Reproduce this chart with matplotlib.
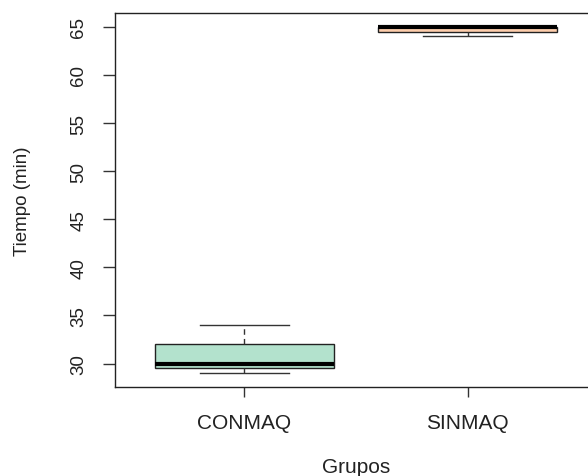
import matplotlib.pyplot as plt

# Five-number summaries per group (minutes)
grupos = ["CONMAQ", "SINMAQ"]
minimo = [29, 64]
q1 = [29.5, 64.5]
mediana = [30, 65]
q3 = [32, 65]
maximo = [34, 65]
colores = ["#b3e2cd", "#fdcdac"]
yticks = [30, 35, 40, 45, 50, 55, 60, 65]

plt.rcParams['font.family'] = ['Liberation Sans', 'DejaVu Sans']

fig = plt.figure(figsize=(5.88, 4.77), dpi=100)
ax = fig.add_axes([115/588, 89/477, 482/588, 374/477])

stats = []
for i, g in enumerate(grupos):
    stats.append({"label": g, "whislo": minimo[i], "q1": q1[i], "med": mediana[i],
                  "q3": q3[i], "whishi": maximo[i], "fliers": []})

bp = ax.bxp(stats, positions=[1, 2], widths=0.8, capwidths=0.4, patch_artist=True,
            showfliers=False,
            boxprops=dict(edgecolor="#222222", linewidth=1.0),
            medianprops=dict(color="black", linewidth=3, solid_capstyle="butt"),
            whiskerprops=dict(color="#333333", linewidth=1.0, linestyle=(0, (4, 3))),
            capprops=dict(color="#333333", linewidth=1.0))
for patch, c in zip(bp["boxes"], colores):
    patch.set_facecolor(c)

ax.set_xlim(0.42, 2.58)
ax.set_ylim(27.56, 66.44)
ax.set_yticks(yticks)
ax.set_yticklabels([str(v) for v in yticks], rotation=90, va="center")
ax.set_xticks([1, 2])
ax.set_xticklabels(grupos)

for s in ax.spines.values():
    s.set_linewidth(1.0)
    s.set_color("#222222")
ax.tick_params(axis="y", length=9, width=1.0, color="#333333", labelsize=13.5,
               labelcolor="#222222", pad=11)
ax.tick_params(axis="x", length=7, width=1.0, color="#333333", labelsize=15,
               labelcolor="#222222", pad=12)

ax.set_ylabel("Tiempo (min)", fontsize=13.5, color="#222222", labelpad=28)
ax.set_xlabel("Grupos", fontsize=15, color="#222222", labelpad=18)

fig.savefig("out.png", dpi=100)
